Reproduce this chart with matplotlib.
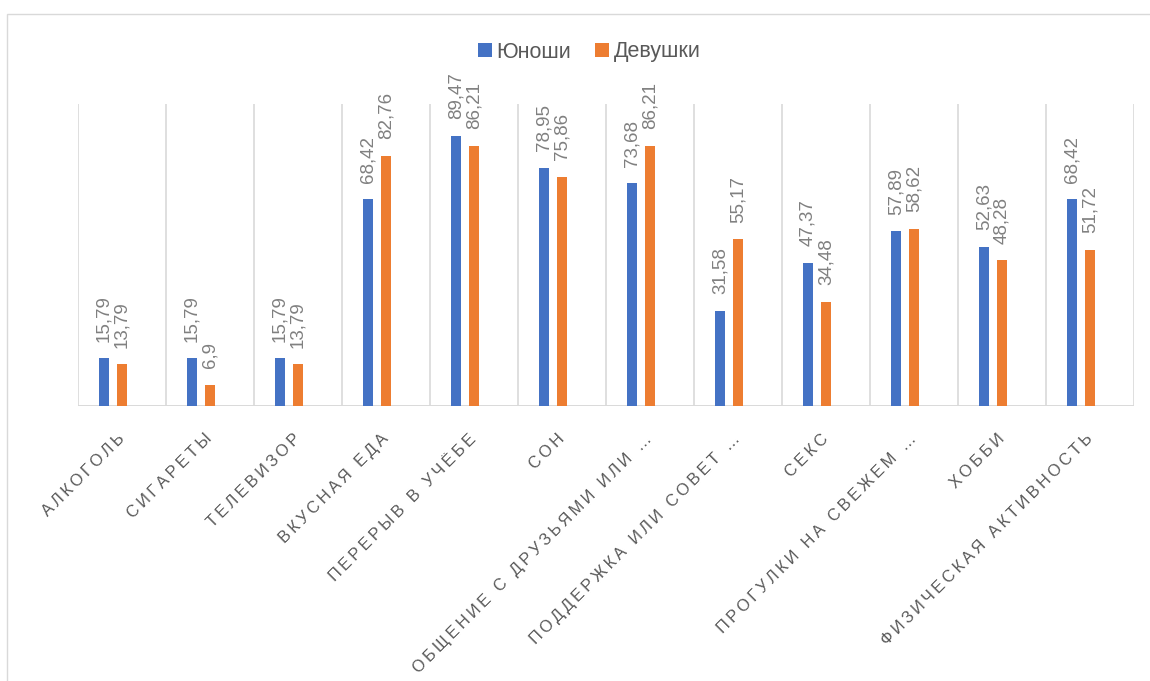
import numpy as np
import matplotlib
matplotlib.use('Agg')
import matplotlib.pyplot as plt
from matplotlib.patches import Rectangle

plt.rcParams['font.family'] = ['Liberation Sans', 'DejaVu Sans']

categories = ['Алкоголь', 'Сигареты', 'Телевизор', 'Вкусная еда', 'Перерыв в учёбе',
              'Сон', 'Общение с друзьями или …', 'Поддержка или совет …', 'Секс',
              'Прогулки на свежем …', 'Хобби', 'Физическая активность']
boys = [15.79, 15.79, 15.79, 68.42, 89.47, 78.95, 73.68, 31.58, 47.37, 57.89, 52.63, 68.42]
girls = [13.79, 6.9, 13.79, 82.76, 86.21, 75.86, 86.21, 55.17, 34.48, 58.62, 48.28, 51.72]
series_names = ['Юноши', 'Девушки']

W, H = 1150, 681
fig = plt.figure(figsize=(W / 100, H / 100), dpi=100)
ax = fig.add_axes([78 / W, 1 - 406 / H, (1134 - 78) / W, (406 - 104) / H])

x = np.arange(len(categories))
bw = 10 / 88
step = 18 / 88
colors = ['#4472C4', '#ED7D31']
label_color = '#808080'

for i, (vals, name, c) in enumerate(zip([boys, girls], series_names, colors)):
    pos = x + (i - 1) * step
    ax.bar(pos, vals, width=bw, color=c, label=name, zorder=3)
    for px, v in zip(pos, vals):
        ax.annotate(str(v).replace('.', ','), (px, v), xytext=(0, 12),
                    textcoords='offset points', rotation=90, ha='center',
                    va='bottom', fontsize=13.5, color=label_color)

# разделители категорий и базовая линия
for b in np.arange(-0.5, len(categories), 1.0):
    ax.axvline(b, color='#d9d9d9', lw=1.2, zorder=1)
ax.axhline(0, color='#d9d9d9', lw=1.4, zorder=2)

ax.set_xlim(-0.5, len(categories) - 0.5)
ax.set_ylim(0, 100)
ax.set_yticks([])
for s in ax.spines.values():
    s.set_visible(False)


def spaced(s):
    words = s.upper().split(' ')
    return '\u2009 \u2009'.join('\u2009'.join(w) for w in words)


ax.set_xticks(x)
ax.set_xticklabels([spaced(c) for c in categories], rotation=45, ha='right',
                   va='center', rotation_mode='anchor', fontsize=11.8,
                   color='#595959')
ax.tick_params(axis='x', length=0, pad=22)

fig.legend(loc='center', bbox_to_anchor=(589 / W, 1 - 52 / H), ncol=2,
           frameon=False, fontsize=15.5, labelcolor='#595959',
           handlelength=0.65, handleheight=0.65, handletextpad=0.22,
           columnspacing=1.1)

fig.add_artist(Rectangle((7 / W, -0.1), 1.2, 1 - 14 / H + 0.1,
                         transform=fig.transFigure, fill=False,
                         edgecolor='#d9d9d9', lw=1.0))

fig.savefig('out.png', dpi=100, facecolor='white')
